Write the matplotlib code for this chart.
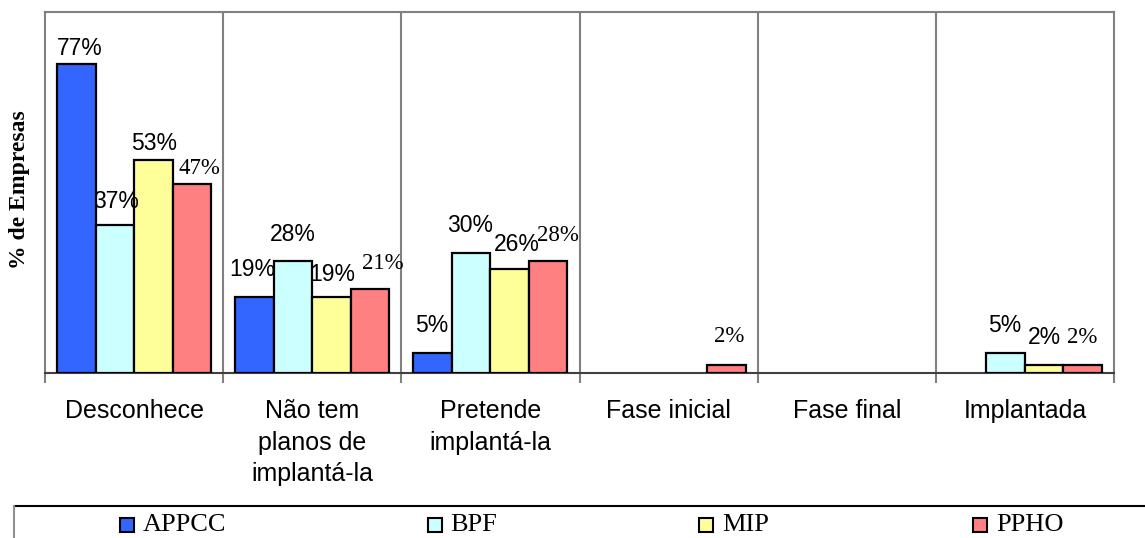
import matplotlib
matplotlib.use("Agg")
import matplotlib.pyplot as plt
from matplotlib.patches import Rectangle
from matplotlib.lines import Line2D
import numpy as np

# ---- data ----
categories = ["Desconhece", "Não tem\nplanos de\nimplantá-la", "Pretende\nimplantá-la",
              "Fase inicial", "Fase final", "Implantada"]
series_names = ["APPCC", "BPF", "MIP", "PPHO"]
appcc = [77, 19, 5, 0, 0, 0]
bpf = [37, 28, 30, 0, 0, 5]
mip = [53, 19, 26, 0, 0, 2]
ppho = [47, 21, 28, 2, 0, 2]

# ---- styling ----
colors = ["#3366FF", "#CCFFFF", "#FFFF99", "#FF8080"]
label_fonts = ["Liberation Sans", "Liberation Sans", "Liberation Sans", "Liberation Serif"]
# per-label nudges of the value labels (pixels: dx, height of label centre above bar)
label_dx = [[3, -2, -1, 0, 0, 0],
            [1.5, 0, -1, 0, 0, -1],
            [1, 1, 7, 0, 0, 0],
            [7.5, 13, 10, 3, 0, 0]]
label_dy = [[16, 27, 27, 0, 0, 0],
            [23, 26, 27, 0, 0, 27],
            [17, 22, 24, 0, 0, 27],
            [16, 25, 25, 28, 0, 27]]

W, H = 1145, 538
fig = plt.figure(figsize=(W / 100, H / 100), dpi=100)
ax = fig.add_axes([45 / W, 1 - 373 / H, (1114 - 45) / W, (373 - 12) / H])

values = [appcc, bpf, mip, ppho]
n = len(categories)
x = np.arange(n)
bw = 38.5 / 178.2
px2pt = 72 / 100

for j, (vals, col) in enumerate(zip(values, colors)):
    pos = x + (j - 1.5) * bw
    widths = [1.6 if v > 0 else 0 for v in vals]
    ax.bar(pos, vals, width=bw, color=col, edgecolor="black", linewidth=widths, zorder=3)
    for i, v in enumerate(vals):
        if v == 0:
            continue
        ax.annotate(f"{v}%", xy=(pos[i], v),
                    xytext=(label_dx[j][i] * px2pt, label_dy[j][i] * px2pt),
                    textcoords="offset points", ha="center", va="center",
                    fontsize=16.5, family=label_fonts[j], color="black", zorder=4)

ax.set_xlim(-0.5, n - 0.5)
ax.set_ylim(0, 90)
ax.set_yticks([])

# category separators
for b in np.arange(0.5, n - 0.5, 1.0):
    ax.axvline(b, color="#808080", linewidth=1.5, zorder=1)

ax.set_xticks(x)
ax.set_xticklabels(categories, family="Liberation Sans", fontsize=18, linespacing=1.38)
ax.tick_params(axis="x", length=0, pad=19)
ax.set_xticks(np.arange(-0.5, n, 1.0), minor=True)
ax.tick_params(axis="x", which="minor", length=7, width=1.5, color="#808080")

for side in ["top", "right", "left"]:
    ax.spines[side].set_color("#808080")
    ax.spines[side].set_linewidth(1.5)
ax.spines["bottom"].set_color("#404040")
ax.spines["bottom"].set_linewidth(1.5)

fig.text(20 / W, 1 - 190 / H, "% de Empresas", rotation=90, ha="center", va="center",
         family="Liberation Serif", fontweight="bold", fontsize=17)

# legend box along the bottom edge
fig.add_artist(Line2D([14 / W, 1.02], [1 - 506 / H, 1 - 506 / H], transform=fig.transFigure,
                      color="black", linewidth=1.5))
fig.add_artist(Line2D([14 / W, 14 / W], [1 - 506 / H, -0.05], transform=fig.transFigure,
                      color="#909090", linewidth=1.5))
marker_cx = [127, 435, 706, 980]
text_x = [143, 450, 722, 996]
ly = 1 - 525 / H
ms = 14
for name, col, mx, tx in zip(series_names, colors, marker_cx, text_x):
    fig.add_artist(Rectangle(((mx - ms / 2) / W, ly - (ms / 2) / H), ms / W, ms / H,
                             transform=fig.transFigure, facecolor=col,
                             edgecolor="black", linewidth=1.5))
    fig.text(tx / W, ly, name, ha="left", va="center", family="Liberation Serif", fontsize=19)

fig.savefig("out.png", dpi=100)
